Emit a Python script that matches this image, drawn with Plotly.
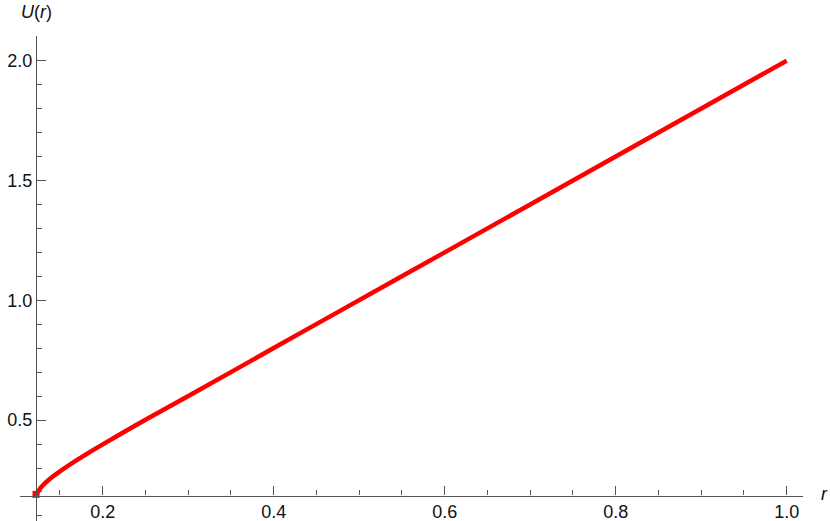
import plotly.graph_objects as go

# Data
r_values = [0.122, 0.1282, 0.136, 0.1516, 0.1711, 0.1906, 0.2179, 0.2553, 0.3138,
            0.40, 0.4776, 0.60, 0.80, 1.00]
u_values = [0.190, 0.221, 0.248, 0.290, 0.336, 0.379, 0.436, 0.512, 0.6275,
            0.801, 0.956, 1.200, 1.600, 2.000]

x_ticks = [0.2, 0.4, 0.6, 0.8, 1.0]
x_tick_labels = ["0.2", "0.4", "0.6", "0.8", "1.0"]
y_ticks = [0.5, 1.0, 1.5, 2.0]
y_tick_labels = ["0.5", "1.0", "1.5", "2.0"]

axis_origin_x = 0.122
axis_origin_y = 0.185

W, H = 830, 521
ML, MR, MT, MB = 20, 27, 36, 0
x_range = [0.10327, 1.01906]
y_range = [0.0789, 2.1031]

x_pos = (axis_origin_x - x_range[0]) / (x_range[1] - x_range[0])
y_pos = (axis_origin_y - y_range[0]) / (y_range[1] - y_range[0])

axis_col = "#555555"
text_col = "#111111"
font_fam = "Liberation Sans, Arial, sans-serif"
fs = 18

fig = go.Figure()
fig.add_trace(go.Scatter(
    x=r_values, y=u_values, mode="lines",
    line=dict(color="#ff0000", width=4.5, shape="spline", smoothing=0.6),
    hoverinfo="skip", showlegend=False,
))
fig.add_trace(go.Scatter(
    x=r_values[:1], y=u_values[:1], mode="markers",
    marker=dict(symbol="square", size=7, color="#ff0000"),
    hoverinfo="skip", showlegend=False,
))

fig.update_layout(
    width=W, height=H,
    margin=dict(l=ML, r=MR, t=MT, b=MB, pad=0),
    paper_bgcolor="white", plot_bgcolor="white",
    font=dict(family=font_fam, size=fs, color=text_col),
    xaxis=dict(
        range=x_range, anchor="free", position=y_pos, side="bottom",
        showgrid=False, zeroline=False, showline=True, linecolor=axis_col, linewidth=1.2,
        ticks="inside", ticklen=9, tickwidth=1.2, tickcolor=axis_col,
        tickvals=x_ticks, ticktext=x_tick_labels,
        tickfont=dict(family=font_fam, size=fs, color=text_col),
        minor=dict(dtick=0.05, tick0=0, ticks="inside", ticklen=5, tickwidth=1, tickcolor=axis_col, showgrid=False),
    ),
    yaxis=dict(
        range=y_range, anchor="free", position=x_pos, side="left",
        showgrid=False, zeroline=False, showline=True, linecolor=axis_col, linewidth=1.2,
        ticks="inside", ticklen=9, tickwidth=1.2, tickcolor=axis_col,
        tickvals=y_ticks, ticktext=y_tick_labels,
        tickfont=dict(family=font_fam, size=fs, color=text_col),
        minor=dict(dtick=0.1, tick0=0, ticks="inside", ticklen=5, tickwidth=1, tickcolor=axis_col, showgrid=False),
    ),
    annotations=[
        dict(text="<i>U</i>(<i>r</i>)", xref="paper", yref="paper",
             x=x_pos, y=1.0, yshift=24, xanchor="center", yanchor="middle",
             showarrow=False, font=dict(family=font_fam, size=fs, color=text_col)),
        dict(text="<i>r</i>", xref="paper", yref="paper",
             x=1.0, y=y_pos, xshift=21, yshift=2, xanchor="center", yanchor="middle",
             showarrow=False, font=dict(family=font_fam, size=fs, color=text_col)),
    ],
)

fig.write_html("out.html", config={"displayModeBar": False},
               post_script="document.body.style.margin='0';document.body.style.overflow='hidden';")
